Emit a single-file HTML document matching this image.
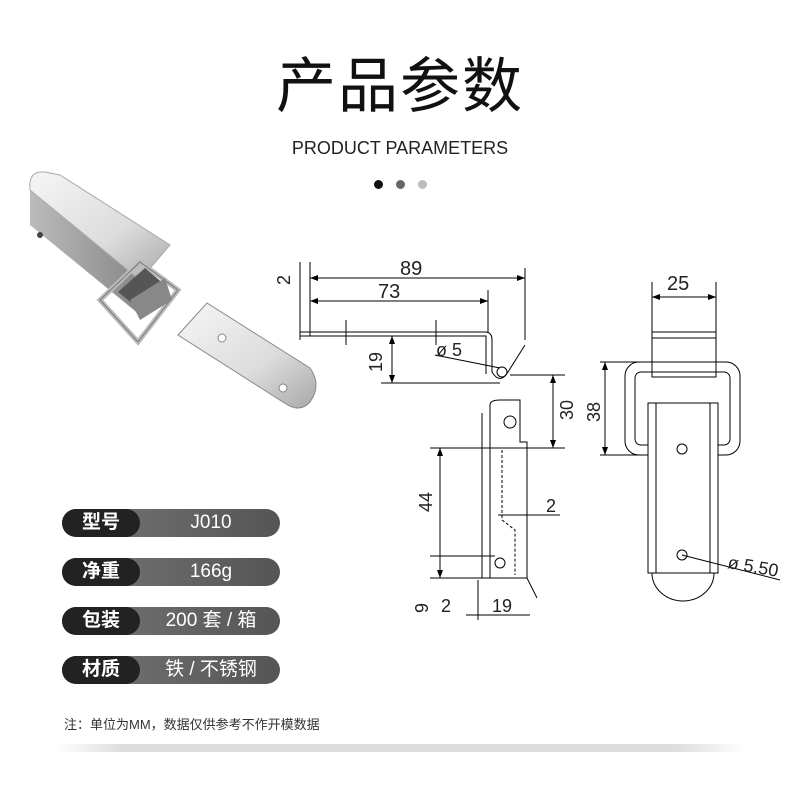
<!DOCTYPE html>
<html><head><meta charset="utf-8"><style>
body{margin:0;background:#fff;width:800px;height:800px;overflow:hidden;position:relative;font-family:"Liberation Sans","Noto Sans CJK SC",sans-serif}
.t{position:absolute;left:0;width:800px;text-align:center}
.row{position:absolute;left:62px;width:218px;height:28px;border-radius:14px;background:linear-gradient(90deg,#777,#555);}
.row .k{position:absolute;left:0;top:0;width:78px;height:28px;border-radius:14px;background:#222;color:#fff;font-size:19px;line-height:28px;text-align:center;font-weight:bold}
.row .v{position:absolute;left:80px;right:0;top:0;color:#fff;font-size:19px;line-height:28px;text-align:center}
</style></head><body>
<div class="t" style="top:38px;font-size:60px;color:#111;letter-spacing:2px">产品参数</div>
<div class="t" style="top:138px;font-size:18px;color:#222">PRODUCT PARAMETERS</div>
<div style="position:absolute;left:374px;top:180px;width:9px;height:9px;border-radius:5px;background:#111"></div>
<div style="position:absolute;left:396px;top:180px;width:9px;height:9px;border-radius:5px;background:#666"></div>
<div style="position:absolute;left:418px;top:180px;width:9px;height:9px;border-radius:5px;background:#bbb"></div>

<svg style="position:absolute;left:0;top:0" width="800" height="800">
<defs><linearGradient id="m" x1="0" y1="0" x2="1" y2="1"><stop offset="0" stop-color="#f6f6f6"/><stop offset=".6" stop-color="#dcdcdc"/><stop offset="1" stop-color="#a8a8a8"/></linearGradient>
<linearGradient id="s" x1="0" y1="0" x2="1" y2="0"><stop offset="0" stop-color="#bbb"/><stop offset="1" stop-color="#888"/></linearGradient>
<marker id="a" markerWidth="8" markerHeight="6" refX="8" refY="3" orient="auto-start-reverse"><path d="M0,0L8,3L0,6z" fill="#000"/></marker></defs>
<!-- photo -->
<path d="M178,335 L207,303 L310,368 Q322,385 310,402 Q300,413 286,404 Z" fill="url(#m)" stroke="#888"/>
<circle cx="222" cy="338" r="4" fill="#fff" stroke="#888"/><circle cx="283" cy="388" r="4" fill="#fff" stroke="#888"/>
<path d="M30,225 L30,190 L140,275 L140,315 Z" fill="url(#s)"/>
<path d="M30,190 Q28,170 45,172 L60,175 L170,245 L140,280 Z" fill="url(#m)" stroke="#aaa"/>
<circle cx="40" cy="235" r="3" fill="#444"/>
<path d="M100,300 L140,262 L178,290 L138,342 Z" fill="none" stroke="#bbb" stroke-width="5"/>
<path d="M100,300 L140,262 L178,290 L138,342 Z" fill="none" stroke="#777" stroke-width="1"/>
<path d="M118,292 L145,268 L165,285 L140,310 Z" fill="#555"/>
<path d="M130,300 L165,278 L172,300 L140,320 Z" fill="#888"/>
<g stroke="#000" stroke-width="1" fill="none">
<path d="M300,332 H485 Q492,332 492,340 V372 Q500,385 508,372 L525,345"/>
<path d="M300,336 H486 V374"/>
<line x1="346" y1="320" x2="346" y2="345"/><line x1="436" y1="320" x2="436" y2="345"/>
<circle cx="502" cy="372" r="5"/>
<path d="M490,405 Q490,400 500,400 H520 V442 H527 V578 H490 Z"/>
<path d="M482,413 V578"/><circle cx="510" cy="422" r="6"/><circle cx="500" cy="563" r="5"/>
<path d="M502,450 V520 L515,530 V575" stroke-dasharray="3,2"/>
<path d="M527,578 L537,598"/>
<line x1="310" y1="262" x2="310" y2="336"/><line x1="525" y1="268" x2="525" y2="340"/>
<line x1="310" y1="278" x2="525" y2="278" marker-start="url(#a)" marker-end="url(#a)"/>
<line x1="488" y1="290" x2="488" y2="332"/>
<line x1="310" y1="301" x2="488" y2="301" marker-start="url(#a)" marker-end="url(#a)"/>
<line x1="300" y1="262" x2="300" y2="340"/>
<line x1="392" y1="336" x2="392" y2="383" marker-start="url(#a)" marker-end="url(#a)"/>
<line x1="381" y1="383" x2="500" y2="383"/>
<line x1="435" y1="355" x2="500" y2="368"/>
<line x1="510" y1="375" x2="565" y2="375"/><line x1="430" y1="448" x2="565" y2="448"/>
<line x1="553" y1="375" x2="553" y2="448" marker-start="url(#a)" marker-end="url(#a)"/>
<line x1="440" y1="448" x2="440" y2="578" marker-start="url(#a)" marker-end="url(#a)"/>
<line x1="430" y1="556" x2="495" y2="556"/><line x1="430" y1="578" x2="495" y2="578"/>
<line x1="498" y1="515" x2="560" y2="515"/>
<line x1="466" y1="615" x2="530" y2="615"/><line x1="478" y1="580" x2="478" y2="620"/>
<line x1="652" y1="282" x2="652" y2="362"/><line x1="716" y1="282" x2="716" y2="362"/>
<line x1="652" y1="297" x2="716" y2="297" marker-start="url(#a)" marker-end="url(#a)"/>
<rect x="652" y="332" width="64" height="45"/><line x1="652" y1="338" x2="716" y2="338"/>
<rect x="625" y="362" width="115" height="93" rx="14"/><rect x="635" y="372" width="95" height="73" rx="6"/>
<rect x="648" y="403" width="70" height="170" fill="#fff"/>
<line x1="656" y1="403" x2="656" y2="573"/><line x1="710" y1="403" x2="710" y2="573"/>
<path d="M652,573 A31,28 0 0 0 714,573"/>
<circle cx="682" cy="449" r="5"/><circle cx="682" cy="555" r="5"/>
<line x1="682" y1="555" x2="780" y2="580"/>
<line x1="600" y1="362" x2="640" y2="362"/><line x1="600" y1="455" x2="640" y2="455"/>
<line x1="605" y1="362" x2="605" y2="455" marker-start="url(#a)" marker-end="url(#a)"/>
</g>
<g font-family="Liberation Sans" font-size="20" fill="#222">
<text x="400" y="275">89</text><text x="378" y="298">73</text>
<text x="436" y="356" font-size="18">ø 5</text>
<text x="290" y="280" transform="rotate(-90 290 280)" font-size="18" text-anchor="middle">2</text>
<text x="382" y="362" transform="rotate(-90 382 362)" font-size="18" text-anchor="middle">19</text>
<text x="573" y="410" transform="rotate(-90 573 410)" font-size="18" text-anchor="middle">30</text>
<text x="432" y="502" transform="rotate(-90 432 502)" font-size="18" text-anchor="middle">44</text>
<text x="546" y="512" font-size="18">2</text>
<text x="428" y="608" transform="rotate(-90 428 608)" font-size="18" text-anchor="middle">9</text>
<text x="441" y="612" font-size="18">2</text><text x="492" y="612" font-size="18">19</text>
<text x="667" y="290">25</text>
<text x="600" y="412" transform="rotate(-90 600 412)" font-size="18" text-anchor="middle">38</text>
<text x="727" y="568" font-size="18" transform="rotate(10 727 568)">ø 5.50</text>
</g>
</svg>

<div class="row" style="top:509px"><div class="k">型号</div><div class="v">J010</div></div>
<div class="row" style="top:558px"><div class="k">净重</div><div class="v">166g</div></div>
<div class="row" style="top:607px"><div class="k">包装</div><div class="v">200 套 / 箱</div></div>
<div class="row" style="top:656px"><div class="k">材质</div><div class="v">铁 / 不锈钢</div></div>
<div style="position:absolute;left:64px;top:714px;font-size:13px;color:#333">注：单位为MM，数据仅供参考不作开模数据</div>
<div style="position:absolute;left:55px;top:744px;width:690px;height:8px;background:linear-gradient(90deg,rgba(220,220,220,0),#ddd 10%,#ddd 90%,rgba(220,220,220,0))"></div>
</body></html>
